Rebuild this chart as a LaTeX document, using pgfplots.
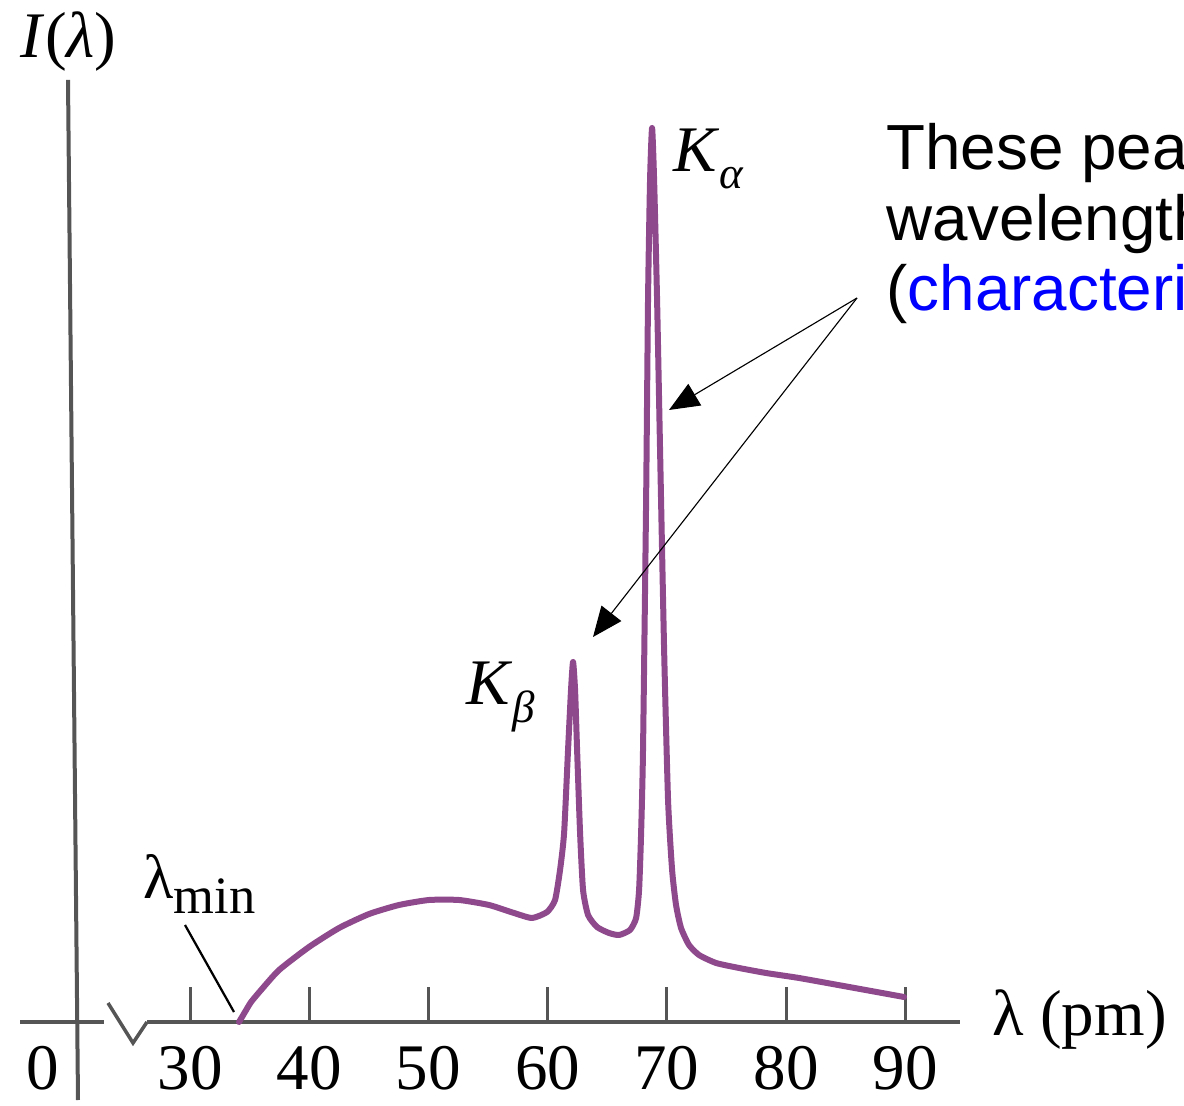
\documentclass[border=0pt]{standalone}
\usepackage{fontspec}
\setmainfont{Liberation Serif}
\newfontfamily\sansfont{Liberation Sans}
\usepackage{pgfplots}
\pgfplotsset{compat=1.18}
\usetikzlibrary{arrows.meta}
\definecolor{spec}{RGB}{142,72,140}
\definecolor{axisgray}{RGB}{85,85,85}
\newcommand\lab{\fontsize{26}{30}\selectfont}

\begin{document}
\begin{tikzpicture}[x=0.4pt,y=0.4pt]
\path[use as bounding box] (0,0) rectangle (1184,1105);
\clip (0,0) rectangle (1184,1105);
\begin{axis}[
  at={(58.8pt,33.2pt)}, anchor=south west,
  x=4.768pt, y=4pt,
  xmin=26.39, xmax=94.6, ymin=0, ymax=95,
  axis x line=bottom, axis y line=none,
  axis line style={-, draw=axisgray, line width=1.4pt},
  xtick={30,40,...,90},
  tick align=inside, major tick length=14pt,
  tick style={draw=axisgray, line width=1.2pt},
  xticklabel style={font=\lab, anchor=center, yshift=-18.4pt},
  /pgf/number format/assume math mode=true,
  clip=false,
]
  % X-ray tube spectrum: continuum plus K_beta and K_alpha lines
  \addplot[spec, line width=2.4pt, line join=round, line cap=round, mark=none,
           smooth, tension=0.35] coordinates {
    (34.11,0) (34.61,1.0) (35.12,2.0) (35.96,3.2) (37.47,5.2) (39.98,7.5)
    (42.50,9.4) (45.02,10.8) (47.53,11.7) (50.05,12.2) (52.57,12.2)
    (55.08,11.7) (57.18,10.9) (58.69,10.4) (59.95,11.0) (60.62,12.2)
    (61.04,15.2) (61.38,18.9) (61.71,27.2) (61.96,33.2) (62.13,36.0)
    (62.30,33.2) (62.47,27.2) (62.72,18.9) (62.97,13.2) (63.39,10.7)
    (64.14,9.5) (65.15,8.9) (65.99,8.7) (66.91,9.2) (67.42,10.4)
    (67.67,13.2) (67.84,18.9) (68.00,27.2) (68.26,52.2) (68.42,72.2)
    (68.59,84.2) (68.76,89.4) (68.93,84.2) (69.18,72.2) (69.43,57.2)
    (69.77,37.2) (70.10,22.2) (70.44,15.2) (70.77,11.7) (71.19,9.4)
    (71.86,7.7) (72.70,6.7) (74.13,5.9) (76.06,5.4) (78.32,4.9)
    (81.09,4.4) (85.29,3.5) (89.90,2.5)
  };
\end{axis}

\begin{scope}[shift={(0,1105)}, yscale=-1]
  % axes outside the plotted range
  \draw[axisgray, line width=1.6pt] (68,80) -- (78,1100);
  \draw[axisgray, line width=1.4pt] (20,1022) -- (104,1022);
  \draw[axisgray, line width=1.4pt, line join=miter] (108,1003) -- (133,1043) -- (147,1022);
  \node[font=\lab] at (43,1068) {0};
  \node[font=\lab, anchor=base west] at (12,58) {\textit{I}(\textit{λ})};
  \node[font=\lab, anchor=base west, inner sep=0pt] at (992,1035) {λ (pm)};

  % peak labels
  \node[font=\lab, anchor=base west, inner sep=0pt] at (673,172)
    {\textit{K}\raisebox{-6.5pt}{\fontsize{18}{18}\selectfont\textit{α}}};
  \node[font=\lab, anchor=base west, inner sep=0pt] at (466,705)
    {\textit{K}\raisebox{-7pt}{\fontsize{18}{18}\selectfont\textit{β}}};
  \node[anchor=base west, inner sep=0pt] at (143,898)
    {\fontsize{25}{28}\selectfont λ\raisebox{-6pt}{\fontsize{21}{21}\selectfont min}};
  \draw[line width=0.9pt] (185,925) -- (234,1012);

  % explanation text (cut off by the right edge, as in the source) and arrows
  \node[font=\sansfont\fontsize{25.5}{28}\selectfont, anchor=base west, inner sep=0pt] at (886,170) {These peaks occur at fixed};
  \node[font=\sansfont\fontsize{25.5}{28}\selectfont, anchor=base west, inner sep=0pt] at (886,241) {wavelengths};
  \node[font=\sansfont\fontsize{25.5}{28}\selectfont, anchor=base west, inner sep=0pt] at (886,311) {(\textcolor{blue}{characteristic X-rays})};
  \draw[line width=0.45pt, -{Triangle[length=12pt,width=10pt]}] (857,298) -- (669,410);
  \draw[line width=0.45pt, -{Triangle[length=12pt,width=10pt]}] (857,298) -- (593,637);
\end{scope}
\end{tikzpicture}
\end{document}
